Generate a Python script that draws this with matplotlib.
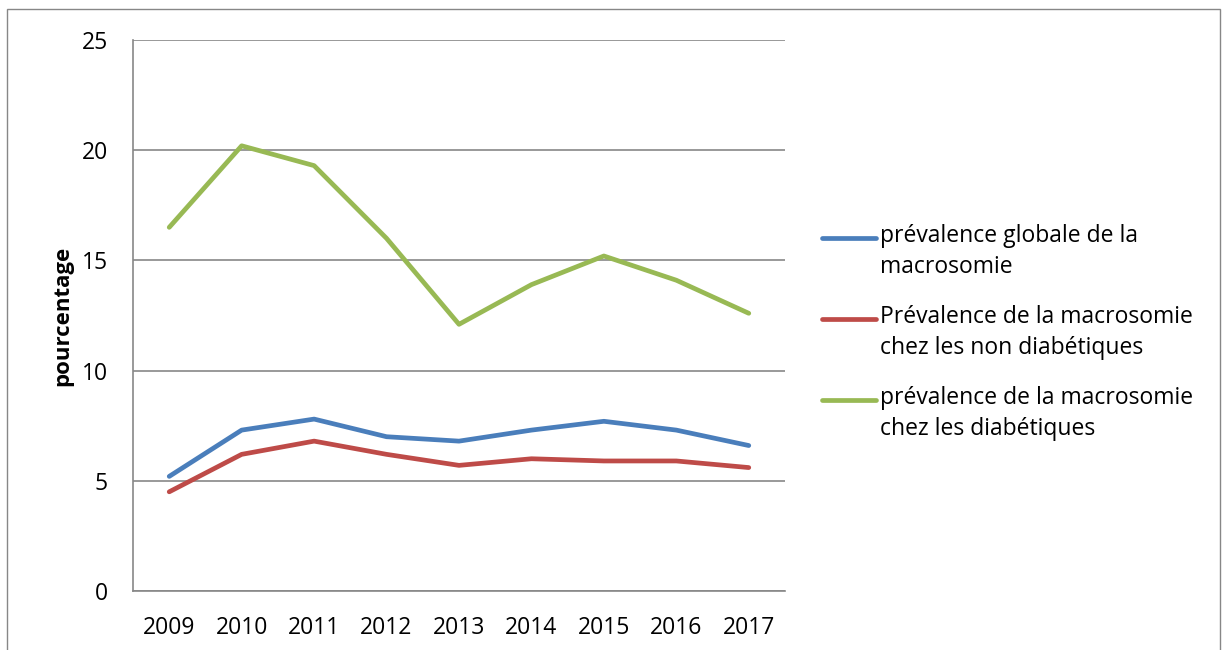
import matplotlib
matplotlib.use("Agg")
import matplotlib.pyplot as plt
from matplotlib.lines import Line2D
from matplotlib.patches import Rectangle

years = ["2009", "2010", "2011", "2012", "2013", "2014", "2015", "2016", "2017"]
globale = [5.2, 7.3, 7.8, 7.0, 6.8, 7.3, 7.7, 7.3, 6.6]
non_diab = [4.5, 6.2, 6.8, 6.2, 5.7, 6.0, 5.9, 5.9, 5.6]
diab = [16.5, 20.2, 19.3, 16.0, 12.1, 13.9, 15.2, 14.1, 12.6]
labels = [
    "prévalence globale de la\nmacrosomie",
    "Prévalence de la macrosomie\nchez les non diabétiques",
    "prévalence de la macrosomie\nchez les diabétiques",
]
colors = ["#4A7EBB", "#BE4B48", "#98B954"]

plt.rcParams['font.family'] = ['Open Sans', 'DejaVu Sans']

W, H = 1228, 650
fig = plt.figure(figsize=(W / 100, H / 100), dpi=100)
fig.patches.append(Rectangle((7 / W, -0.02), 1213 / W, 1 - 9 / H + 0.02,
                             transform=fig.transFigure, fill=False,
                             edgecolor="#878787", linewidth=1.0))

ax = fig.add_axes([133 / W, 1 - 591 / H, 652 / W, 551 / H])
x = list(range(len(years)))
for vals, c in zip([globale, non_diab, diab], colors):
    ax.plot(x, vals, color=c, linewidth=3.4, solid_capstyle="round",
            solid_joinstyle="round", zorder=3)

ax.set_xlim(-0.5, len(years) - 0.5)
ax.set_ylim(0, 25)
ax.set_yticks([0, 5, 10, 15, 20, 25])
ax.set_xticks(x)
ax.set_xticklabels(years)
ax.tick_params(axis="both", length=0, labelsize=16.5, colors="black")
ax.tick_params(axis="y", pad=18)
ax.tick_params(axis="x", pad=18)
ax.grid(axis="y", color="#878787", linewidth=1.2)
ax.set_axisbelow(True)
for s in ["top", "right"]:
    ax.spines[s].set_visible(False)
for s in ["left", "bottom"]:
    ax.spines[s].set_color("#878787")
    ax.spines[s].set_linewidth(1.2)
ax.set_ylabel("pourcentage", fontsize=16, fontweight="bold", labelpad=6)

# legend drawn by hand so the handle sits on the first text line
for i, (lab, c) in enumerate(zip(labels, colors)):
    yy = 1 - (238 + i * 81) / H
    fig.add_artist(Line2D([822 / W, 876 / W], [yy, yy], transform=fig.transFigure,
                          color=c, linewidth=3.4, solid_capstyle="round"))
    fig.text(880 / W, yy + 14 / H, lab, fontsize=16.5, va="top", ha="left",
             linespacing=1.4)

fig.savefig("out.png", dpi=100)
